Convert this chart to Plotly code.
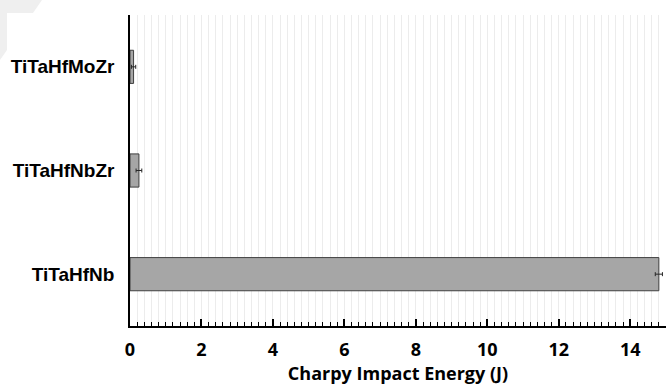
import plotly.graph_objects as go

categories = ["TiTaHfNb", "TiTaHfNbZr", "TiTaHfMoZr"]
energy = [14.8, 0.25, 0.1]
energy_err = [0.1, 0.08, 0.06]
x_tickvals = [0, 2, 4, 6, 8, 10, 12, 14]

fig = go.Figure()
fig.add_trace(go.Bar(
    y=categories, x=energy, orientation="h",
    marker=dict(color="#a6a6a6", line=dict(color="#3f3f3f", width=1)),
    error_x=dict(type="data", array=energy_err, color="#262626", thickness=1, width=2),
    width=0.32,
))

corner = "M -0.2425 1.0482 L -0.1642 1.0482 L -0.181 1.0064 L -0.2295 1.0064 L -0.2295 0.8875 L -0.2425 0.8553 Z"

fig.update_layout(
    width=669, height=386,
    margin=dict(l=130, r=3, t=15, b=60),
    plot_bgcolor="white", paper_bgcolor="white",
    showlegend=False,
    font=dict(family="Liberation Sans", color="black"),
    shapes=[dict(type="path", xref="paper", yref="paper", path=corner,
                 fillcolor="#efefef", line=dict(width=0), layer="below")],
)
fig.update_xaxes(
    range=[0, 15], tickvals=x_tickvals, automargin=False,
    ticks="inside", ticklen=7, tickwidth=1.5, tickcolor="black",
    showline=True, linecolor="black", linewidth=2,
    showgrid=False, zeroline=False,
    ticklabelstandoff=6,
    tickfont=dict(family="Open Sans", size=18, color="black", weight="bold"),
    minor=dict(dtick=0.2, ticks="inside", ticklen=4, tickwidth=1.2, tickcolor="black",
               showgrid=True, gridcolor="#ececec", gridwidth=1),
    title=dict(text="Charpy Impact Energy (J)", standoff=4,
               font=dict(family="Open Sans", size=18, color="black", weight="bold")),
)
fig.update_yaxes(
    showline=True, linecolor="black", linewidth=1.5, automargin=False,
    ticks="", showgrid=False, zeroline=False,
    ticklabelstandoff=10,
    tickfont=dict(family="Liberation Sans", size=19, color="black", weight="bold"),
)

fig.write_html("out.html", config={"displayModeBar": False},
               post_script="document.body.style.margin='0';document.body.style.overflow='hidden';")
